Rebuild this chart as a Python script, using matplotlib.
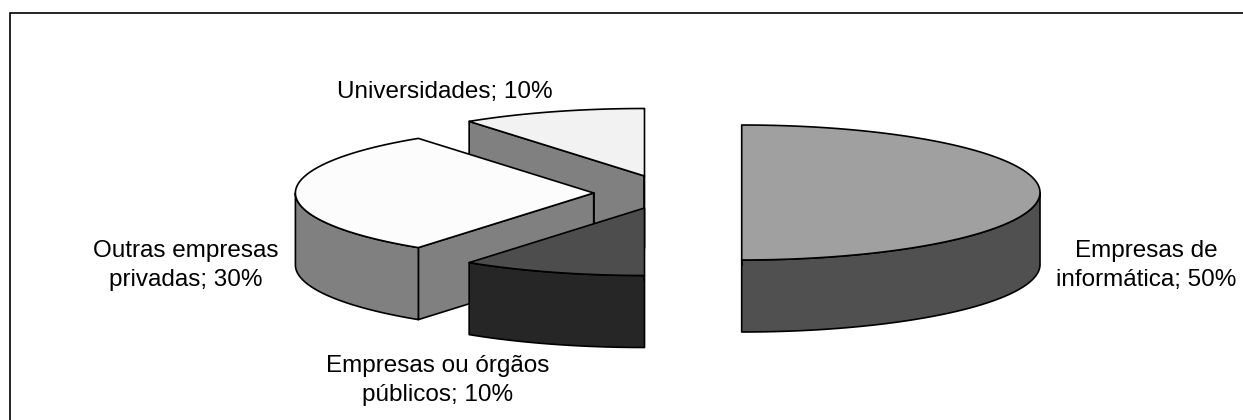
import numpy as np
import matplotlib
matplotlib.use("Agg")
import matplotlib.pyplot as plt
from matplotlib.patches import Polygon

plt.rcParams['font.family'] = ['Liberation Sans', 'DejaVu Sans']

categories = ["Empresas de\ninformática", "Empresas ou órgãos\npúblicos",
              "Outras empresas\nprivadas", "Universidades"]
shares = [50, 10, 30, 10]

top_colors = ["#a0a0a0", "#4d4d4d", "#fcfcfc", "#f2f2f2"]
side_colors = ["#505050", "#262626", "#808080", "#808080"]
centers = [(741.7, 192.5), (644.5, 208), (593.7, 193), (644.5, 176)]
label_pos = [(1146.5, 265.5), (437.5, 380.5), (186, 265.5), (445, 92)]
draw_order = [3, 2, 1, 0]

RX, RY, DEPTH = 298.3, 67.5, 72
W, H = 1243, 420

fig = plt.figure(figsize=(W / 100, H / 100), dpi=100, facecolor="white")
ax = fig.add_axes([0, 0, 1, 1])
ax.set_xlim(0, W)
ax.set_ylim(H, 0)
ax.axis("off")

# the chart frame shows only along its top and left sides
ax.plot([10.5, 10.5, W], [H, 12.5, 12.5], color="black", lw=1.2, solid_joinstyle="miter")


def arc(cx, cy, t0, t1):
    t = np.radians(np.linspace(t0, t1, 180))
    return np.column_stack([cx + RX * np.sin(t), cy - RY * np.cos(t)])


def face(pts, color, z):
    ax.add_patch(Polygon(pts, closed=True, fc=color, ec="black", lw=1.2,
                         joinstyle="round", zorder=z))


bounds = np.cumsum([0] + shares) / sum(shares) * 360
for z, i in enumerate(draw_order):
    t0, t1 = bounds[i], bounds[i + 1]
    cx, cy = centers[i]
    base = 10 * (z + 1)
    # flat cut face, seen only when it points towards the viewer
    s = np.sin(np.radians(t0))
    if s < -1e-6:
        p = arc(cx, cy, t0, t0)[0]
        face([p, (cx, cy), (cx, cy + DEPTH), (p[0], p[1] + DEPTH)], side_colors[i], base)
    # outer rim: the part of the arc on the near half
    a, b = max(t0, 90), min(t1, 270)
    if b > a:
        rim = arc(cx, cy, a, b)
        face(np.vstack([rim, rim[::-1] + [0, DEPTH]]), side_colors[i], base + 1)
    # vertical edge at the pie centre
    ax.plot([cx, cx], [cy, cy + DEPTH], color="black", lw=1.2, zorder=base + 2)
    # top surface
    face(np.vstack([[(cx, cy)], arc(cx, cy, t0, t1)]), top_colors[i], base + 3)

for name, val, (x, y) in zip(categories, shares, label_pos):
    ax.text(x, y, f"{name}; {val}%", ha="center", va="center", fontsize=17.5,
            linespacing=1.39, color="black", zorder=100)

fig.savefig("out.png", dpi=100, facecolor="white")
